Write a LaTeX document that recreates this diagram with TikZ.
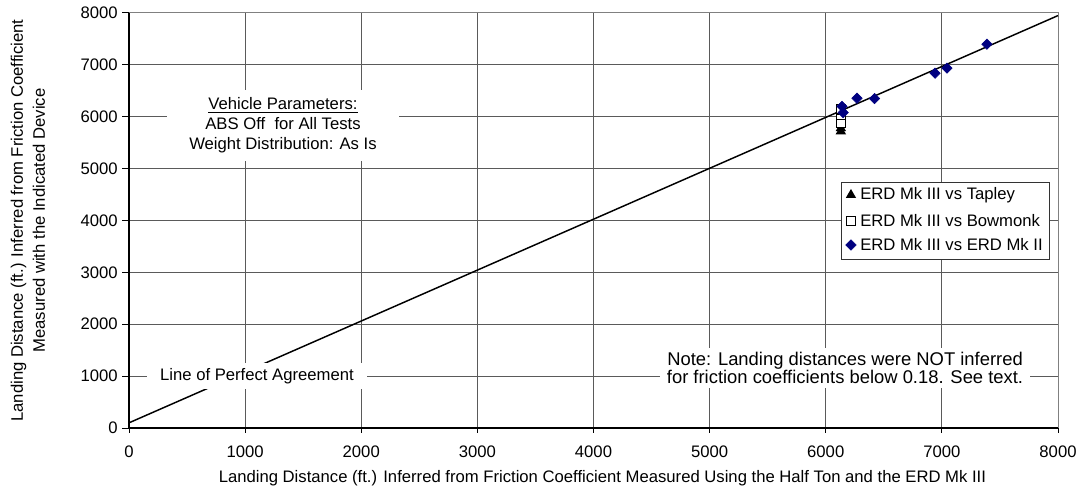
\documentclass[tikz,border=0pt]{standalone}
\usepackage{fontspec}
\setmainfont{Liberation Sans}
\usetikzlibrary{shapes.geometric}
\definecolor{navyblue}{RGB}{0,0,128}
\definecolor{gridgray}{RGB}{90,90,90}

\begin{document}
\begin{tikzpicture}[x=0.0870938pt, y=0.0389063pt,
        font=\fontsize{12.5}{14}\selectfont,
        gridline/.style={gridgray, line width=0.75pt},
        textbox/.style={fill=white, inner sep=0pt, align=center},
        diamondmark/.style={diamond, aspect=1, fill=navyblue, draw=navyblue, inner sep=0pt, minimum size=8pt},
        trianglemark/.style={regular polygon, regular polygon sides=3, fill=black, inner sep=0pt, minimum size=9pt},
        squaremark/.style={rectangle, draw=black, line width=0.9pt, fill=white, inner sep=0pt, minimum size=6.5pt}]
        \useasboundingbox (-1110.9,-1195.2) rectangle (8198.1,8250.6);
        % grid
        \foreach \v in {1000,2000,...,7000} {
            \draw[gridline] (\v,0) -- (\v,8000);
            \draw[gridline] (0,\v) -- (8000,\v);
        }
        \draw[black!50, line width=0.75pt] (0,8000) -- (8000,8000) -- (8000,0);
        % line of perfect agreement
        \coordinate (lowend) at (0,100);
        \coordinate (highend) at (8000,7950);
        \draw[black, line width=1.1pt] (lowend) -- (highend);
        % text boxes
        \node[textbox, minimum width=174pt, minimum height=53pt, font=\fontsize{12.5}{15}\selectfont] (vehicle) at (1326,5830) {\underline{Vehicle Parameters:}\\ABS Off~ for All Tests\\Weight Distribution: As Is};
        \node[textbox, minimum width=165pt, minimum height=20pt] (agreement) at (1102,1002) {Line of Perfect Agreement};
        \node[textbox, minimum width=277pt, minimum height=30pt, font=\fontsize{13.8}{13.8}\selectfont] (note) at (6166,1157) {Note: Landing distances were NOT inferred\\for friction coefficients below 0.18. See text.};
        % axes
        \draw[black, line width=1pt] (0,8000) -- (0,0) -- (8000,0);
        \foreach \v in {0,1000,...,8000} {
            \draw[black, line width=0.75pt] (-60,\v) -- (0,\v);
            \draw[black, line width=0.75pt] (\v,0) -- (\v,-96);
            \node[anchor=east, inner sep=0pt] (ytick\v) at (-95,\v) {\v};
            \node[inner sep=0pt] (xtick\v) at (\v,-463) {\v};
        }
        \node (xtitle) at (4077,-964) {Landing Distance (ft.) Inferred from Friction Coefficient Measured Using the Half Ton and the ERD Mk III};
        \node[rotate=90, align=center, font=\fontsize{12.5}{16.5}\selectfont] (ytitle) at (-870,4000) {Landing Distance (ft.) Inferred from Friction Coefficient\\Measured with the Indicated Device};
        % data
        \node[trianglemark] (t1) at (6130,5780) {};
        \node[trianglemark] (t2) at (6130,5720) {};
        \node[squaremark] (s1) at (6130,6150) {};
        \node[squaremark] (s2) at (6130,5960) {};
        \node[squaremark] (s3) at (6130,5870) {};
        \node[diamondmark] (d1) at (6150,6080) {};
        \node[diamondmark] (d2) at (6140,6200) {};
        \node[diamondmark] (d3) at (6269,6358) {};
        \node[diamondmark] (d4) at (6420,6350) {};
        \node[diamondmark] (d5) at (6941,6840) {};
        \node[diamondmark] (d6) at (7044,6937) {};
        \node[diamondmark] (d7) at (7388,7399) {};
        % legend
        \node[draw=black!80, line width=0.6pt, fill=white, minimum width=156pt, minimum height=57.7pt] (legend) at (7027,4000) {};
        \node[trianglemark] (ltri) at (6217,4492) {};
        \node[squaremark] (lsq) at (6217,3990) {};
        \node[diamondmark] (ldia) at (6217,3528) {};
        \node[anchor=west, inner sep=0pt] (ltritext) at (6295,4492) {ERD Mk III vs Tapley};
        \node[anchor=west, inner sep=0pt] (lsqtext) at (6295,3990) {ERD Mk III vs Bowmonk};
        \node[anchor=west, inner sep=0pt] (ldiatext) at (6295,3528) {ERD Mk III vs ERD Mk II};
    \end{tikzpicture}
\end{document}
